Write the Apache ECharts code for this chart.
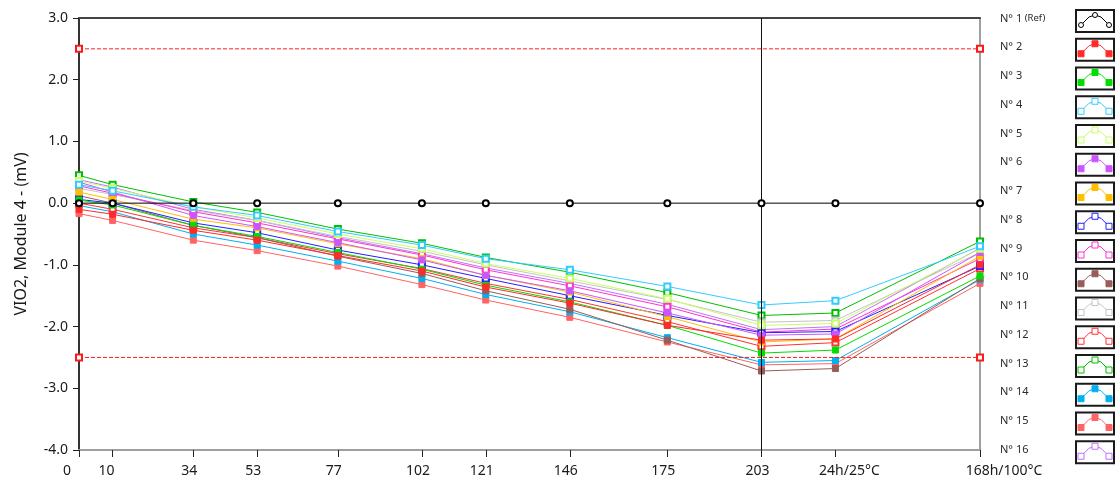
<!DOCTYPE html>
<html><head><meta charset="utf-8">
<script src="https://cdn.jsdelivr.net/npm/echarts@6/dist/echarts.min.js"></script>
<style>html,body{margin:0;padding:0;background:#fff}#c{width:1115px;height:486px}</style>
</head><body><div id="c"></div>
<script>
// ---------- data ----------
const xValues = [0, 10, 34, 53, 77, 102, 121, 146, 175, 203, 225, 268];
const xLabels = ['0', '10', '34', '53', '77', '102', '121', '146', '175', '203', '24h/25°C', '168h/100°C'];
const yAxisTitle = 'VIO2, Module 4 - (mV)';
const seriesNames = ['N° 1 (Ref)', 'N° 2', 'N° 3', 'N° 4', 'N° 5', 'N° 6', 'N° 7', 'N° 8', 'N° 9', 'N° 10', 'N° 11', 'N° 12', 'N° 13', 'N° 14', 'N° 15', 'N° 16'];
const seriesColors = ['#000000', '#ff2a2a', '#00dd00', '#33ccff', '#c8ff66', '#cc55ff', '#ffbf00', '#2020ff', '#ff33cc', '#9a5c58', '#c4c4c4', '#ff3333', '#00c000', '#00b0f0', '#ff6464', '#c070ff'];
const seriesFilled = [false, true, true, false, false, true, true, false, false, true, false, false, false, true, true, false];

const ref = [0, 0, 0, 0, 0, 0, 0, 0, 0, 0, 0, 0];
const n2  = [-0.10, -0.18, -0.44, -0.60, -0.85, -1.10, -1.36, -1.62, -1.98, -2.22, -2.20, -1.00];
const n3  = [ 0.05, -0.03, -0.36, -0.54, -0.80, -1.07, -1.33, -1.60, -1.98, -2.43, -2.38, -1.18];
const n4  = [ 0.30,  0.20, -0.06, -0.20, -0.46, -0.68, -0.90, -1.08, -1.35, -1.65, -1.58, -0.70];
const n5  = [ 0.36,  0.24, -0.06, -0.24, -0.50, -0.74, -0.98, -1.22, -1.55, -1.98, -1.95, -0.74];
const n6  = [ 0.34,  0.18, -0.20, -0.38, -0.64, -0.92, -1.17, -1.42, -1.78, -2.14, -2.12, -0.80];
const n7  = [ 0.18,  0.06, -0.26, -0.40, -0.66, -0.90, -1.17, -1.44, -1.84, -2.25, -2.20, -0.86];
const n8  = [ 0.06,  0.00, -0.32, -0.48, -0.76, -1.00, -1.22, -1.50, -1.82, -2.10, -2.08, -1.02];
const n9  = [ 0.28,  0.16, -0.14, -0.32, -0.58, -0.84, -1.08, -1.34, -1.68, -2.09, -2.04, -0.90];
const n10 = [ 0.12,  0.00, -0.36, -0.56, -0.86, -1.14, -1.42, -1.72, -2.22, -2.72, -2.68, -1.22];
const n11 = [ 0.24,  0.14, -0.12, -0.28, -0.54, -0.78, -1.00, -1.26, -1.56, -1.93, -1.90, -0.80];
const n12 = [ 0.00, -0.10, -0.40, -0.56, -0.82, -1.06, -1.30, -1.56, -1.92, -2.32, -2.26, -1.06];
const n13 = [ 0.45,  0.30,  0.02, -0.15, -0.42, -0.65, -0.88, -1.12, -1.45, -1.82, -1.78, -0.62];
const n14 = [-0.04, -0.14, -0.50, -0.68, -0.94, -1.22, -1.48, -1.76, -2.18, -2.58, -2.55, -1.24];
const n15 = [-0.17, -0.28, -0.60, -0.77, -1.02, -1.32, -1.57, -1.85, -2.25, -2.62, -2.60, -1.30];
const n16 = [ 0.38,  0.26, -0.10, -0.28, -0.56, -0.82, -1.05, -1.30, -1.64, -2.05, -2.00, -0.73];

const limitX = [0, 268];
const upperLimit = [2.5, 2.5];
const lowerLimit = [-2.5, -2.5];
const cursorX = 203;
const yMin = -4, yMax = 3, yStep = 1;

// ---------- build ----------
const allValues = [ref, n2, n3, n4, n5, n6, n7, n8, n9, n10, n11, n12, n13, n14, n15, n16];
const FONT = 'Noto Sans';
const LIMIT_COLOR = '#ff1a1a';
const labelShift = {'0': -12, '10': -6, '24h/25°C': 14, '168h/100°C': 24};
const rich = {};
xLabels.forEach((l, i) => {
  const s = labelShift[l] !== undefined ? labelShift[l] : -4;
  rich['t' + i] = {
    fontFamily: FONT, fontSize: 14, color: '#1a1a1a',
    padding: s < 0 ? [0, -2 * s, 0, 0] : [0, 0, 0, 2 * s]
  };
});

const series = [];
for (let k = allValues.length - 1; k >= 0; k--) {
  const vals = allValues[k];
  const isRef = k === 0;
  series.push({
    name: seriesNames[k],
    type: 'line',
    color: seriesColors[k],
    data: xValues.map((x, i) => [x, vals[i]]),
    symbol: isRef ? 'emptyCircle' : (seriesFilled[k] ? 'rect' : 'emptyRect'),
    symbolSize: 6,
    z: isRef ? 5 : 2,
    lineStyle: {color: seriesColors[k], width: 1},
    itemStyle: {color: seriesColors[k], borderColor: isRef ? '#333' : seriesColors[k], borderWidth: 1},
    animation: false,
    markLine: isRef ? {
      silent: true, symbol: 'none', label: {show: false},
      lineStyle: {color: '#111', width: 1, type: 'solid'},
      data: [{xAxis: cursorX}]
    } : undefined
  });
}
[['upper', upperLimit], ['lower', lowerLimit]].forEach(([nm, lim]) => {
  series.push({
    name: nm + ' limit',
    type: 'line', data: limitX.map((x, i) => [x, lim[i]]),
    color: LIMIT_COLOR,
    symbol: 'emptyRect', symbolSize: 6, z: 8, animation: false,
    lineStyle: {color: LIMIT_COLOR, width: 1, type: 'dashed', dashOffset: 0, opacity: 1},
    itemStyle: {color: LIMIT_COLOR, borderColor: LIMIT_COLOR, borderWidth: 1}
  });
});

// legend drawn with graphics
const graphic = [];
const bx = 1076;
seriesNames.forEach((name, i) => {
  const cy = 21 + 28.75 * i;
  const isRef = i === 0;
  const parts = name.match(/^(N° \d+)(.*)$/);
  graphic.push({
    type: 'text', left: 1000, top: cy - 8,
    style: {
      text: parts[2] ? parts[1] + '{s|' + parts[2] + '}' : name,
      fill: '#2a2a2a', font: '11px ' + FONT,
      rich: {s: {fontSize: 9.5, fontFamily: FONT, fill: '#2a2a2a'}}
    }
  });
  graphic.push({
    type: 'rect', shape: {x: bx, y: cy - 11, width: 38, height: 22},
    style: {fill: '#fff', stroke: '#1a1a1a', lineWidth: 2}
  });
  const pts = [[bx + 5, cy + 4], [bx + 13, cy - 4], [bx + 19, cy - 6], [bx + 25, cy - 4], [bx + 33, cy + 4]];
  graphic.push({
    type: 'polyline', shape: {points: pts},
    style: {stroke: seriesColors[i], lineWidth: 1, fill: null}
  });
  [pts[0], pts[2], pts[4]].forEach(p => {
    if (isRef) {
      graphic.push({type: 'circle', shape: {cx: p[0], cy: p[1], r: 2.5},
        style: {fill: '#fff', stroke: seriesColors[i], lineWidth: 1}});
    } else {
      graphic.push({type: 'rect', shape: {x: p[0] - 3, y: p[1] - 3, width: 6, height: 6},
        style: {fill: seriesFilled[i] ? seriesColors[i] : '#fff', stroke: seriesColors[i], lineWidth: 1}});
    }
  });
});

const chart = echarts.init(document.getElementById('c'), null, {renderer: 'canvas'});
chart.setOption({
  animation: false,
  backgroundColor: '#fff',
  grid: {left: 79, right: 135, top: 18, bottom: 36, show: false},
  xAxis: [{
    type: 'value', min: limitX[0], max: limitX[1],
    axisLine: {show: true, onZero: false, lineStyle: {color: '#a0a0a0', width: 2}},
    axisTick: {show: true, customValues: xValues, length: 7, lineStyle: {color: '#222', width: 1}},
    axisLabel: {
      customValues: xValues, margin: 14,
      formatter: v => { const i = xValues.indexOf(v); return i < 0 ? '' : '{t' + i + '|' + xLabels[i] + '}'; },
      rich: rich
    },
    splitLine: {show: false}
  }, {
    type: 'value', position: 'top', min: limitX[0], max: limitX[1],
    axisLine: {show: true, onZero: false, lineStyle: {color: '#444', width: 2}},
    axisTick: {show: false}, axisLabel: {show: false}, splitLine: {show: false}
  }],
  yAxis: [{
    type: 'value', min: yMin, max: yMax, interval: yStep,
    name: yAxisTitle, nameLocation: 'middle', nameGap: 50,
    nameTextStyle: {fontFamily: FONT, fontSize: 16, color: '#1a1a1a'},
    axisLine: {show: true, onZero: false, lineStyle: {color: '#333', width: 2}},
    axisTick: {show: true, length: 6, lineStyle: {color: '#222'}},
    axisLabel: {formatter: v => v.toFixed(1), fontFamily: FONT, fontSize: 14, color: '#1a1a1a', margin: 11},
    splitLine: {show: false}
  }, {
    type: 'value', position: 'right', min: yMin, max: yMax,
    axisLine: {show: true, onZero: false, lineStyle: {color: '#a0a0a0', width: 2}},
    axisTick: {show: false}, axisLabel: {show: false}, splitLine: {show: false}
  }],
  series: series,
  graphic: graphic
});
</script></body></html>
